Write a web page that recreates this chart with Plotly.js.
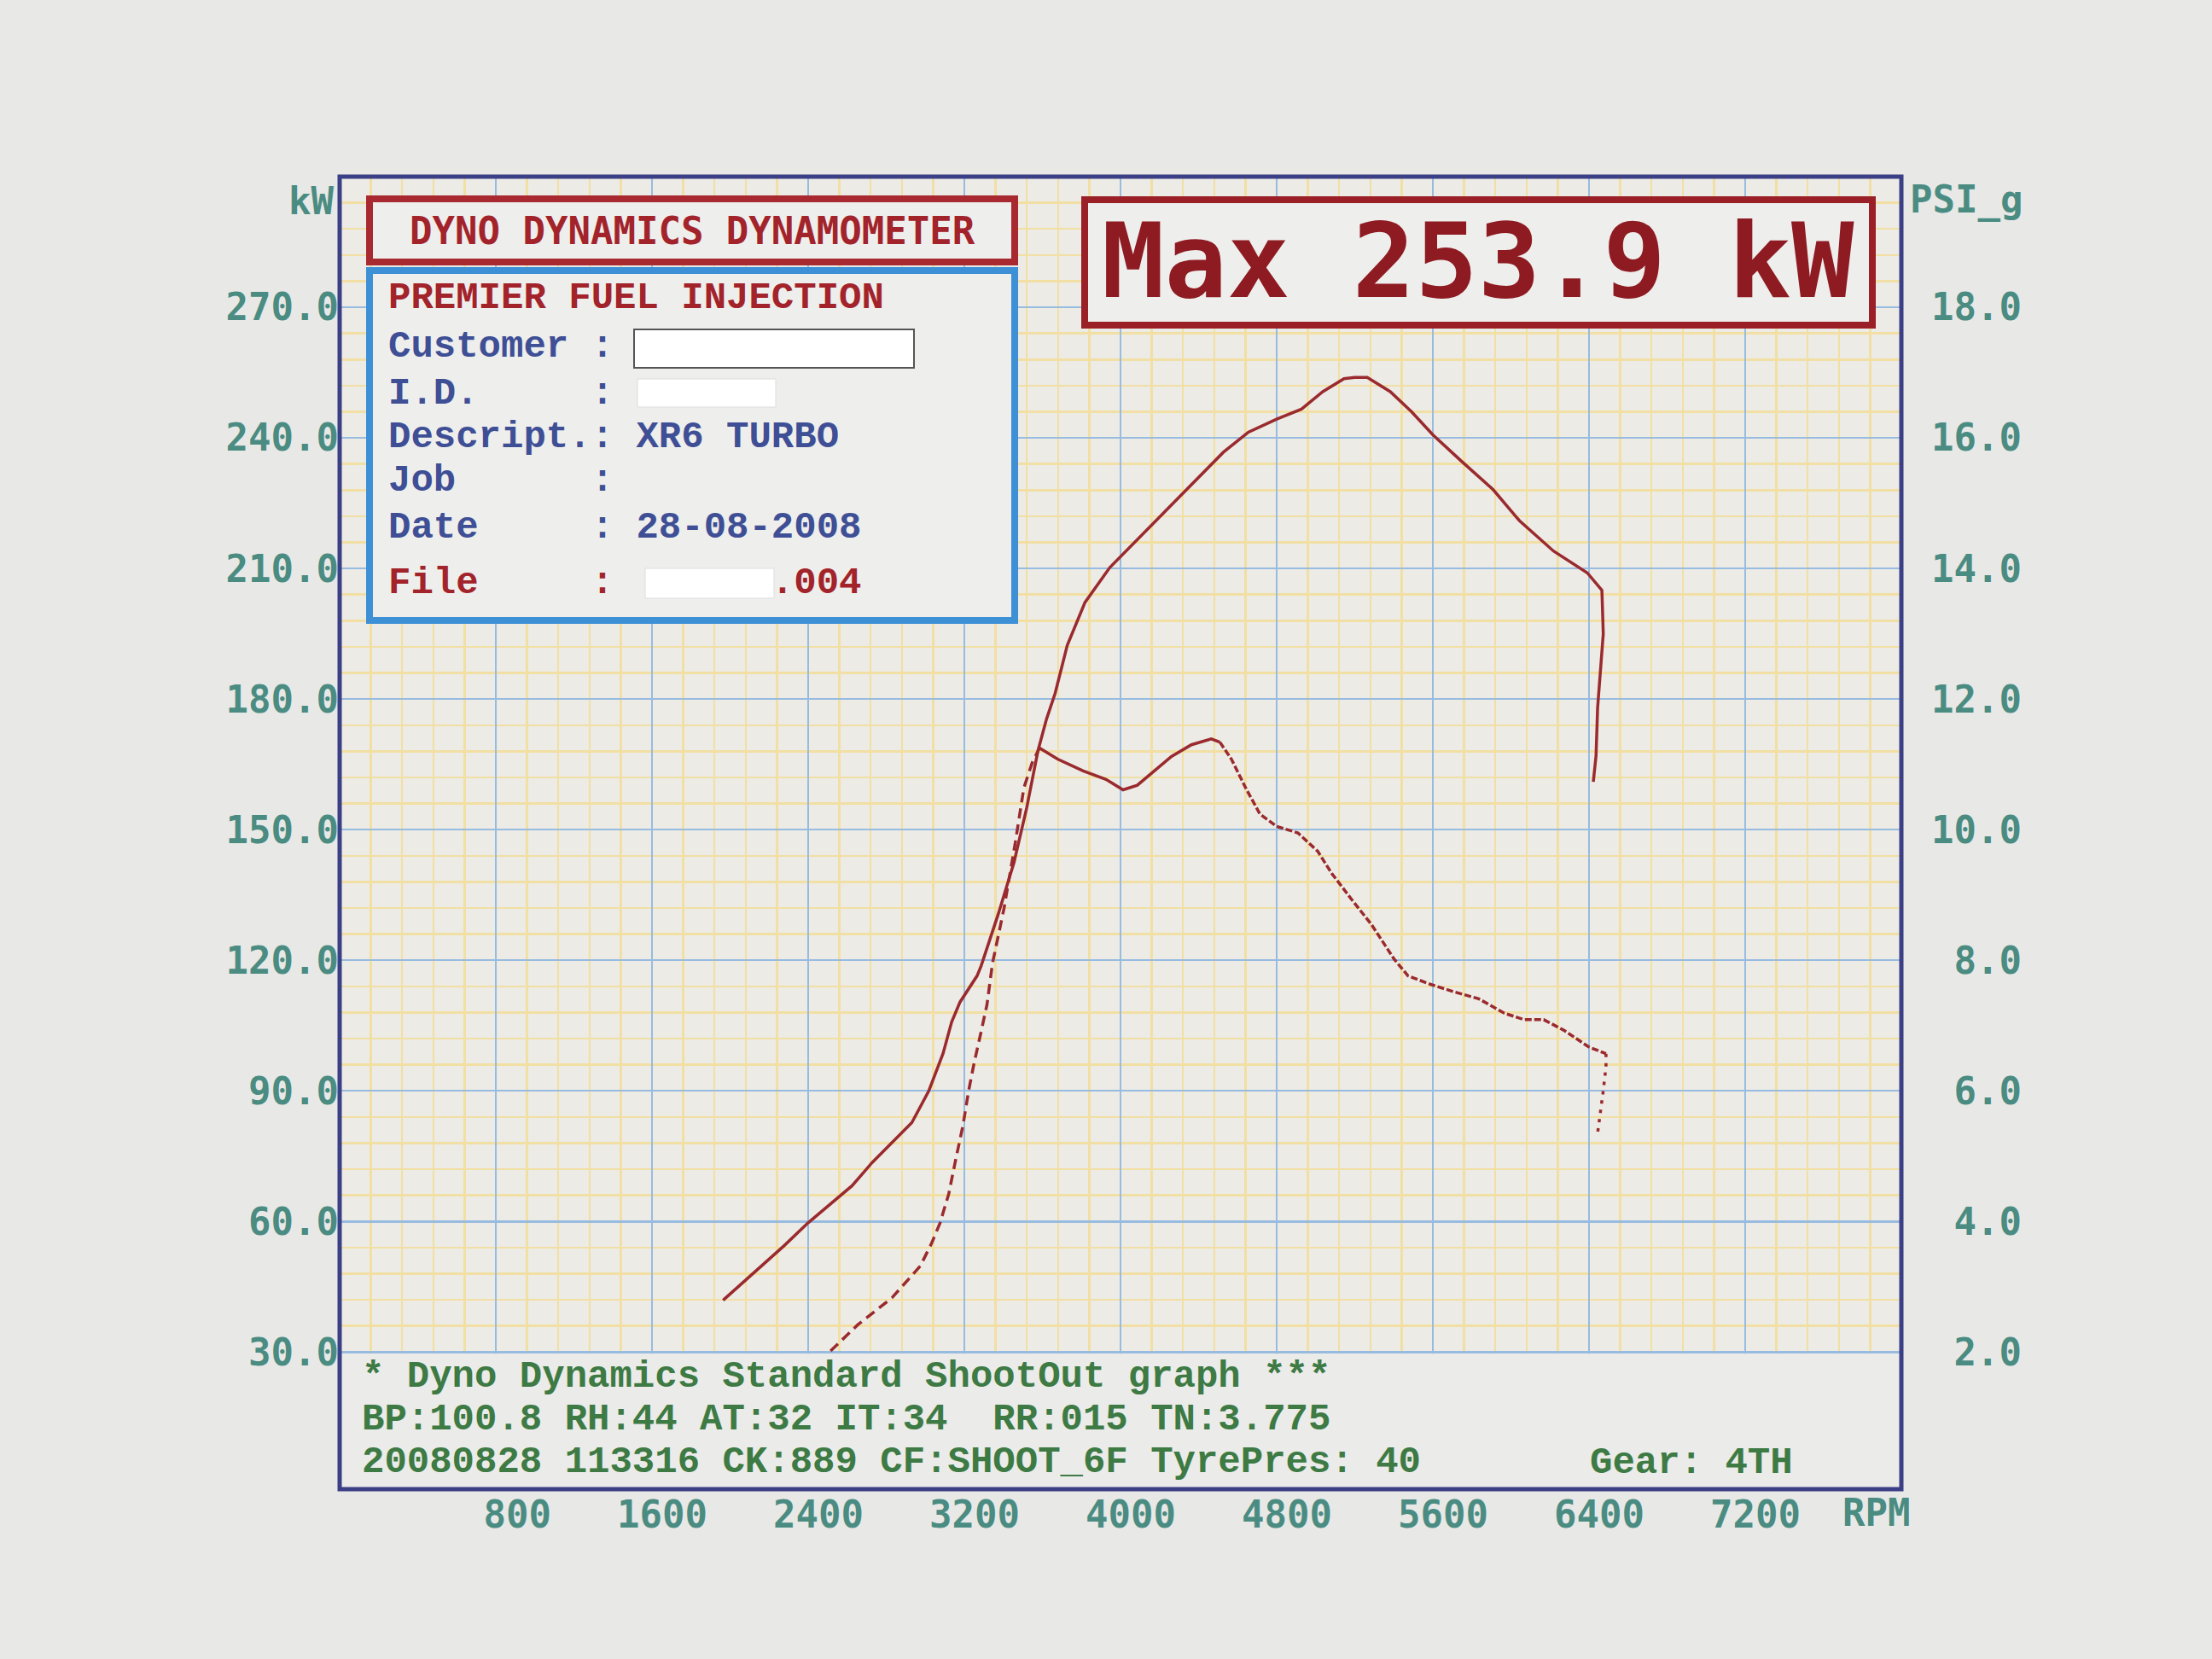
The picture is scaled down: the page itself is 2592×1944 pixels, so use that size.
<!DOCTYPE html>
<html>
<head>
<meta charset="utf-8">
<script src="https://cdn.plot.ly/plotly-3.0.1.min.js"></script>
<style>html,body{margin:0;padding:0;background:#e8e8e6;}</style>
</head>
<body>
<div id="chart" style="width:2592px;height:1944px;"></div>
<script>
// ---- Axis ticks / labels ----
const rpmTicks = [800, 1600, 2400, 3200, 4000, 4800, 5600, 6400, 7200];
const rpmLabels = ['800', '1600', '2400', '3200', '4000', '4800', '5600', '6400', '7200'];
const kwTicks = [30, 60, 90, 120, 150, 180, 210, 240, 270];
const kwLabels = ['30.0', '60.0', '90.0', '120.0', '150.0', '180.0', '210.0', '240.0', '270.0'];
const psiTicks = [2, 4, 6, 8, 10, 12, 14, 16, 18];
const psiLabels = ['2.0', '4.0', '6.0', '8.0', '10.0', '12.0', '14.0', '16.0', '18.0'];

// ---- Power curve (kW vs RPM) ----
const powerRpm = [1964, 2131, 2276, 2400, 2524, 2625, 2727, 2829, 2931, 3018, 3091, 3135, 3178, 3265, 3286, 3373, 3454, 3519, 3577, 3621, 3665, 3727, 3818, 3945, 4091, 4236, 4382, 4527, 4655, 4800, 4927, 5036, 5145, 5200, 5264, 5382, 5491, 5600, 5745, 5909, 6043, 6142, 6218, 6391, 6466, 6473, 6458, 6444, 6436, 6422];
const powerKw = [41.9, 48.5, 54.4, 59.7, 64.3, 68.2, 73.5, 78.1, 82.7, 90.0, 98.6, 105.8, 110.4, 116.4, 118.7, 130.5, 142.4, 154.9, 168.1, 175.4, 181.3, 192.3, 202.2, 210.2, 216.8, 223.4, 230.1, 236.7, 241.3, 244.3, 246.6, 250.6, 253.6, 253.9, 253.9, 250.6, 246.0, 240.7, 234.7, 228.1, 221.0, 217.0, 214.0, 209.0, 205.0, 195.0, 186.0, 178.0, 167.0, 161.0];

// ---- Boost curve (PSI_g vs RPM), in drawn segments ----
const boostRiseRpm = [2460, 2509, 2655, 2829, 2975, 3033, 3076, 3120, 3156, 3193, 3222, 3251, 3287, 3316, 3344, 3403, 3461, 3505, 3548, 3585];
const boostRisePsi = [1.83, 2.00, 2.42, 2.83, 3.32, 3.67, 3.98, 4.42, 4.95, 5.47, 6.00, 6.44, 6.92, 7.32, 7.95, 8.79, 9.80, 10.64, 11.03, 11.25];
const boostMidRpm = [3585, 3678, 3809, 3926, 4013, 4086, 4173, 4261, 4363, 4465, 4509];
const boostMidPsi = [11.25, 11.08, 10.90, 10.77, 10.61, 10.68, 10.90, 11.12, 11.30, 11.39, 11.34];
const boostFallRpm = [4509, 4568, 4641, 4714, 4800, 4909, 5010, 5082, 5184, 5285, 5401, 5473, 5589, 5705, 5835, 5966, 6067, 6168, 6270, 6400, 6487];
const boostFallPsi = [11.34, 11.08, 10.64, 10.24, 10.05, 9.95, 9.67, 9.33, 8.93, 8.55, 8.02, 7.76, 7.63, 7.52, 7.41, 7.19, 7.09, 7.09, 6.93, 6.67, 6.57];
const boostTailRpm = [6487, 6487, 6472, 6458, 6443];
const boostTailPsi = [6.57, 6.37, 5.98, 5.63, 5.33];

// ---- Text ----
const headerText = 'DYNO DYNAMICS DYNAMOMETER';
const maxText = 'Max 253.9 kW';
const shopText = 'PREMIER FUEL INJECTION';
const infoLines = ['Customer : ', 'I.D.     : ', 'Descript.: XR6 TURBO', 'Job      : ', 'Date     : 28-08-2008'];
const fileLine = 'File     :       .004';
const footLines = ['* Dyno Dynamics Standard ShootOut graph ***', 'BP:100.8 RH:44 AT:32 IT:34  RR:015 TN:3.775', '20080828 113316 CK:889 CF:SHOOT_6F TyrePres: 40'];
const gearText = 'Gear: 4TH';

// ---- helpers ----
const W = 2592, H = 1944;
const ML = 398, MR = 364, MT = 207, MB = 199;
const PW = W - ML - MR, PH = H - MT - MB;
const PX = x => (x - ML) / PW;
const PY = y => (H - MB - y) / PH;
const nb = s => s.replace(/ /g, '\u00a0');
const pad = (s, n) => nb(s.padStart(n, ' '));

const TEAL = '#4b8c82', GREEN = '#3d7a44', RED = '#a3232b', DARKRED = '#8e1b22', NAVYTXT = '#3f4f96';
const MONO = 'DejaVu Sans Mono', SERIFMONO = 'Liberation Mono';
const LINE = '#9a2a2d';

const traces = [
  {x: powerRpm, y: powerKw, type: 'scatter', mode: 'lines', line: {color: LINE, width: 3.5}, yaxis: 'y'},
  {x: boostRiseRpm, y: boostRisePsi, type: 'scatter', mode: 'lines', line: {color: LINE, width: 3.5, dash: '12px,7px'}, yaxis: 'y2'},
  {x: boostMidRpm, y: boostMidPsi, type: 'scatter', mode: 'lines', line: {color: LINE, width: 3.5}, yaxis: 'y2'},
  {x: boostFallRpm, y: boostFallPsi, type: 'scatter', mode: 'lines', line: {color: LINE, width: 3.5, dash: '8px,3px'}, yaxis: 'y2'},
  {x: boostTailRpm, y: boostTailPsi, type: 'scatter', mode: 'lines', line: {color: LINE, width: 3.5, dash: '4px,7px'}, yaxis: 'y2'}
];

const tickFont = {family: MONO, size: 44, color: TEAL, weight: 'bold'};
const BLUEGRID = '#98bbe0', YELLOWGRID = '#f1dfa3';

function rectPx(x0, y0, x1, y1, lineColor, lineWidth, fill) {
  return {type: 'rect', xref: 'paper', yref: 'paper', x0: PX(x0), x1: PX(x1), y0: PY(y1), y1: PY(y0),
    line: {color: lineColor, width: lineWidth}, fillcolor: fill, layer: 'above'};
}

const shapes = [
  // footer panel covering bottom of grid
  {type: 'rect', xref: 'x', yref: 'y', x0: 0, x1: 8000, y0: -1.5, y1: 29.6, line: {width: 0}, fillcolor: '#ebebe9', layer: 'above'},
  // header box
  rectPx(433, 233, 1189, 307, '#a82a30', 8, '#eeeeec'),
  // info box
  rectPx(433, 317, 1189, 727, '#3d8fd6', 8, '#eeeeec'),
  // max box
  rectPx(1271, 234, 2194, 381, '#9a1f26', 8, '#eeeeec'),
  // blank fields
  rectPx(743, 386, 1071, 431, '#555555', 2, '#ffffff'),
  rectPx(747, 444, 909, 477, '#dddddd', 1, '#ffffff'),
  rectPx(756, 666, 907, 701, '#dddddd', 1, '#ffffff'),
  // frame
  {type: 'rect', xref: 'paper', yref: 'paper', x0: 0, x1: 1, y0: 0, y1: 1, line: {color: '#3b3f85', width: 5}, fillcolor: 'rgba(0,0,0,0)', layer: 'above'}
];

function ann(text, x, y, font, xanchor) {
  return {text: nb(text), xref: 'paper', yref: 'paper', x: PX(x), y: PY(y), xanchor: xanchor || 'left', yanchor: 'middle', showarrow: false, font: font};
}
const infoFont = {family: SERIFMONO, size: 44, color: NAVYTXT, weight: 'bold'};
const redFont = {family: SERIFMONO, size: 44, color: RED, weight: 'bold'};
const footFont = {family: SERIFMONO, size: 44, color: GREEN, weight: 'bold'};
const infoYs = [406, 461, 512, 563, 618];
const footYs = [1613, 1663, 1713];

const annotations = [
  ann(headerText, 811, 270, {family: MONO, size: 44, color: RED, weight: 'bold'}, 'center'),
  ann(maxText, 1732, 306, {family: MONO, size: 122, color: DARKRED, weight: 'bold'}, 'center'),
  ann(shopText, 453, 349, redFont),
  ...infoLines.map((t, i) => ann(t, 453, infoYs[i], infoFont)),
  ann(fileLine, 453, 683, redFont),
  ...footLines.map((t, i) => ann(t, 422, footYs[i], footFont)),
  ann(gearText, 1861, 1714, footFont),
  ann('kW', 393, 236, tickFont, 'right'),
  ann('PSI_g', 2236, 234, tickFont, 'left'),
  ann('RPM', 2198, 1772, tickFont, 'center')
];

const layout = {
  width: W, height: H,
  paper_bgcolor: '#e8e8e6', plot_bgcolor: '#ecebe6',
  margin: {l: ML, r: MR, t: MT, b: MB, pad: 0},
  showlegend: false,
  xaxis: {
    range: [0, 8000], tickmode: 'array', tickvals: rpmTicks, ticktext: rpmLabels.map(s => pad(s, 4)),
    showgrid: true, gridcolor: BLUEGRID, gridwidth: 2.5,
    minor: {tickmode: 'linear', tick0: 0, dtick: 160, showgrid: true, gridcolor: YELLOWGRID, gridwidth: 2.5},
    zeroline: false, showline: false, ticks: '', tickfont: tickFont,
    ticklabelshift: 12, ticklabelstandoff: 0, fixedrange: true
  },
  yaxis: {
    range: [-1.5, 300], tickmode: 'array', tickvals: kwTicks, ticktext: kwLabels,
    showgrid: true, gridcolor: BLUEGRID, gridwidth: 2.5,
    minor: {tickmode: 'linear', tick0: 0, dtick: 6, showgrid: true, gridcolor: YELLOWGRID, gridwidth: 2.5},
    zeroline: false, showline: false, ticks: '', tickfont: tickFont, fixedrange: true
  },
  yaxis2: {
    overlaying: 'y', side: 'right', range: [-0.1, 20], tickmode: 'array', tickvals: psiTicks,
    ticktext: psiLabels.map(s => pad(s, 4)),
    showgrid: false, zeroline: false, showline: false, ticks: '', tickfont: tickFont,
    ticklabelstandoff: 34, fixedrange: true
  },
  shapes: shapes,
  annotations: annotations
};

Plotly.newPlot('chart', traces, layout, {displayModeBar: false, staticPlot: true});
</script>
</body>
</html>
